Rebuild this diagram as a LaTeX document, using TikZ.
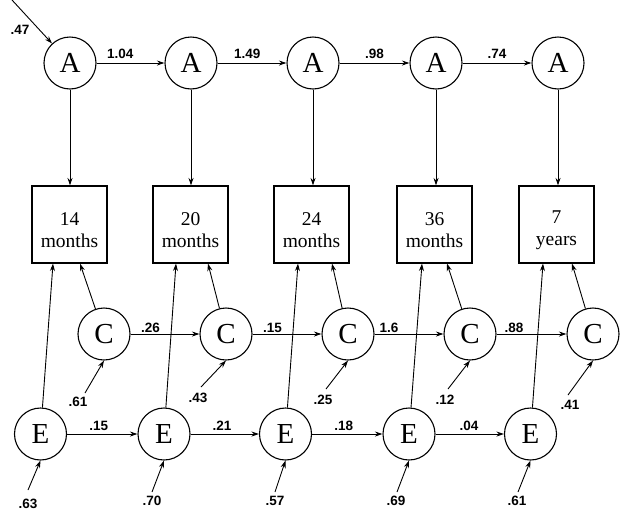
\documentclass[tikz,border=0pt]{standalone}
\usepackage{fontspec}
\setmainfont{Liberation Serif}
\newfontfamily\labfont{Liberation Sans}
\usetikzlibrary{arrows.meta,calc}
\begin{document}
\begin{tikzpicture}[x=1pt,y=-1pt,
  lat/.style={circle,draw,line width=1.1pt,minimum size=52pt,inner sep=0pt,font=\fontsize{29}{31}\selectfont},
  obs/.style={rectangle,draw,line width=1.1pt,minimum width=75pt,minimum height=77pt,inner sep=0pt},
  obstext/.style={align=center,font=\fontsize{19.5}{22}\selectfont,inner sep=0pt},
  coef/.style={font=\labfont\bfseries\fontsize{13.5}{13.5}\selectfont,inner sep=1pt},
  arr/.style={-{Stealth[length=7.5pt,width=5pt]},line width=0.9pt}]
\useasboundingbox (0,0) rectangle (621,512);
% A row
\node[lat] (A1) at (70,63) {A};
\node[lat] (A2) at (191,63) {A};
\node[lat] (A3) at (313,63) {A};
\node[lat] (A4) at (436,63) {A};
\node[lat] (A5) at (558,63) {A};
% boxes
\node[obs] (B1) at (69.5,224.5) {};
\node[obs] (B2) at (190.5,224.5) {};
\node[obs] (B3) at (311.5,224.5) {};
\node[obs] (B4) at (434.5,224.5) {};
\node[obs] (B5) at (556.5,224.5) {};
\node[obstext] (T1) at (69.5,230.5) {14\\months};
\node[obstext] (T2) at (190.5,230.5) {20\\months};
\node[obstext] (T3) at (311.5,230.5) {24\\months};
\node[obstext] (T4) at (434.5,230.5) {36\\months};
\node[obstext] (T5) at (556.5,230.5) {7\\years};
% C row
\node[lat] (C1) at (104,334) {C};
\node[lat] (C2) at (226,334) {C};
\node[lat] (C3) at (348,334) {C};
\node[lat] (C4) at (470,334) {C};
\node[lat] (C5) at (593,334) {C};
% E row
\node[lat] (E1) at (40.5,434) {E};
\node[lat] (E2) at (164,434) {E};
\node[lat] (E3) at (285.5,434) {E};
\node[lat] (E4) at (409,434) {E};
\node[lat] (E5) at (530.5,434) {E};

% top-left disturbance
\coordinate (a0) at (12,0);
\draw[arr] (a0) -- (A1);
\node[coef] (l47) at (20,30) {.47};

% A -> A
\draw[arr] (A1) -- node[coef,pos=0.35,above=3pt] {1.04} (A2);
\draw[arr] (A2) -- node[coef,pos=0.43,above=3pt] {1.49} (A3);
\draw[arr] (A3) -- node[coef,pos=0.5,above=3pt] {.98} (A4);
\draw[arr] (A4) -- node[coef,pos=0.5,above=3pt] {.74} (A5);

% A -> boxes
\foreach \i in {1,...,5} {
  \draw[arr] (A\i.south) -- (A\i.south |- B\i.north);
}

% C -> C
\draw[arr] (C1) -- node[coef,pos=0.29,above=0pt] {.26} (C2);
\draw[arr] (C2) -- node[coef,pos=0.29,above=0pt] {.15} (C3);
\draw[arr] (C3) -- node[coef,pos=0.21,above=0pt] {1.6} (C4);
\draw[arr] (C4) -- node[coef,pos=0.25,above=0pt] {.88} (C5);

% E -> E
\draw[arr] (E1) -- node[coef,pos=0.45,above=2pt] {.15} (E2);
\draw[arr] (E2) -- node[coef,pos=0.46,above=2pt] {.21} (E3);
\draw[arr] (E3) -- node[coef,pos=0.45,above=2pt] {.18} (E4);
\draw[arr] (E4) -- node[coef,pos=0.49,above=2pt] {.04} (E5);

% C -> boxes
\draw[arr] (C1) -- ($(B1.south)+(10.5,0)$);
\draw[arr] (C2) -- ($(B2.south)+(17.5,0)$);
\draw[arr] (C3) -- ($(B3.south)+(20.5,0)$);
\draw[arr] (C4) -- ($(B4.south)+(12.5,0)$);
\draw[arr] (C5) -- ($(B5.south)+(15.5,0)$);

% E -> boxes
\draw[arr] (E1) -- ($(B1.south)+(-16.5,0)$);
\draw[arr] (E2) -- ($(B2.south)+(-14.5,0)$);
\draw[arr] (E3) -- ($(B3.south)+(-13.5,0)$);
\draw[arr] (E4) -- ($(B4.south)+(-12.5,0)$);
\draw[arr] (E5) -- ($(B5.south)+(-13.5,0)$);

% C residuals
\coordinate (c1) at (85,393);
\coordinate (c2) at (201,387);
\coordinate (c3) at (326,389);
\coordinate (c4) at (448,389);
\coordinate (c5) at (568,395);
\draw[arr] (c1) -- (C1.south);
\draw[arr] (c2) -- (C2.south);
\draw[arr] (c3) -- (C3.south);
\draw[arr] (c4) -- (C4.south);
\draw[arr] (c5) -- (C5.south);
\node[coef] (l61c) at (78,402) {.61};
\node[coef] (l43) at (198,398) {.43};
\node[coef] (l25) at (323,400) {.25};
\node[coef] (l12) at (445,400) {.12};
\node[coef] (l41) at (570,405) {.41};

% E residuals
\coordinate (e1) at (28,490);
\coordinate (e2) at (152,492);
\coordinate (e3) at (275,492);
\coordinate (e4) at (397,492);
\coordinate (e5) at (518,492);
\draw[arr] (e1) -- (E1.south);
\draw[arr] (e2) -- (E2.south);
\draw[arr] (e3) -- (E3.south);
\draw[arr] (e4) -- (E4.south);
\draw[arr] (e5) -- (E5.south);
\node[coef] (l63) at (28,504) {.63};
\node[coef] (l70) at (152,501) {.70};
\node[coef] (l57) at (275,501) {.57};
\node[coef] (l69) at (396,501) {.69};
\node[coef] (l61e) at (517,501) {.61};
\end{tikzpicture}
\end{document}
